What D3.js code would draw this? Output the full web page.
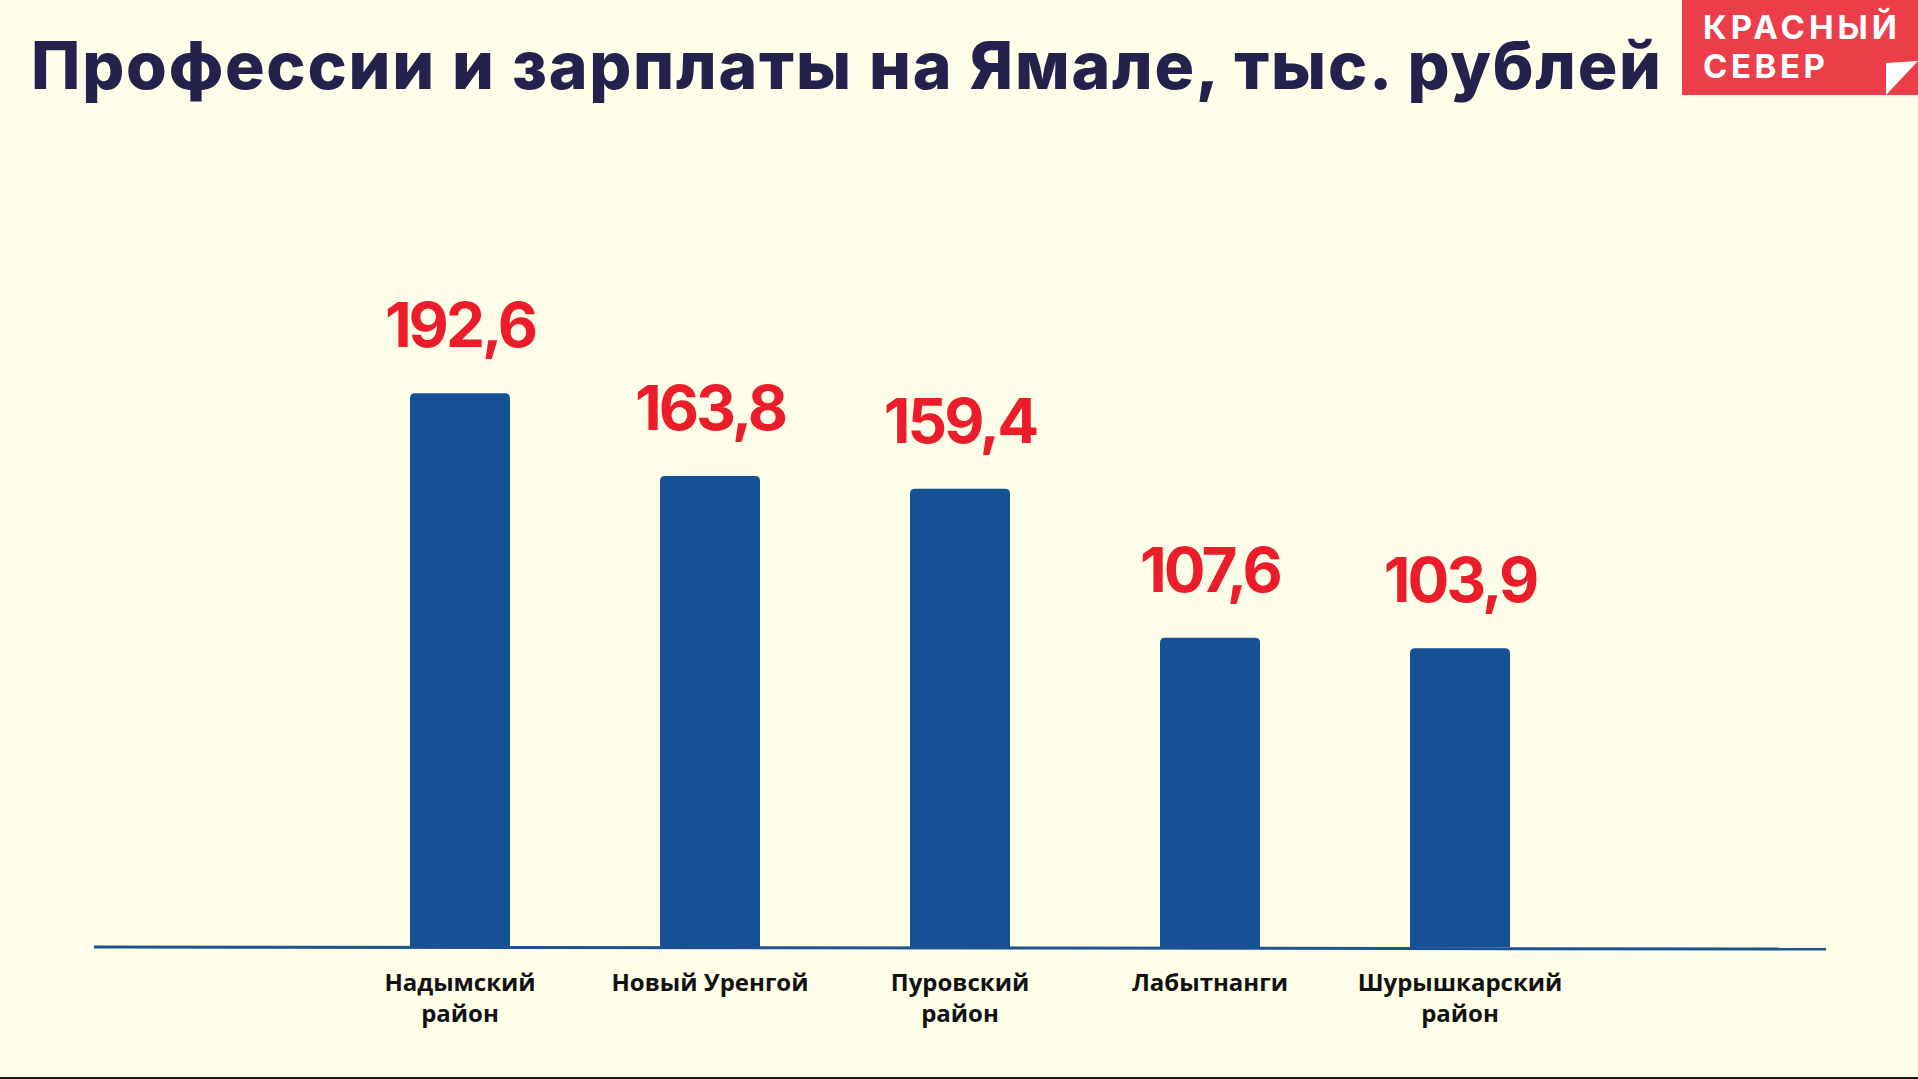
<!DOCTYPE html>
<html><head><meta charset="utf-8">
<script src="https://cdn.jsdelivr.net/npm/d3@7"></script>
<style>html,body{margin:0;padding:0;background:#fefee9;overflow:hidden}</style>
</head><body><svg id="c" width="1918" height="1079"></svg>
<script>
const title = "Профессии и зарплаты на Ямале, тыс. рублей";
const categories = ["Надымский район", "Новый Уренгой", "Пуровский район", "Лабытнанги", "Шурышкарский район"];
const values = [192.6, 163.8, 159.4, 107.6, 103.9];
const logoLines = ["КРАСНЫЙ", "СЕВЕР"];

const W = 1918, H = 1079;
const svg = d3.select("#c");
svg.append("rect").attr("width", W).attr("height", H).attr("fill", "#fefee9");

const x = d3.scaleBand().domain(categories).range([335, 1585]).paddingInner(0.6).paddingOuter(0.3);
const y = d3.scaleLinear().domain([0, 200]).range([947, 372]);
const fmt = v => d3.format(".1f")(v).replace(".", ",");

// title
svg.append("text").attr("x", 31).attr("y", 89)
  .attr("font-family", "Inter, 'Open Sans', sans-serif").attr("font-weight", 800)
  .attr("font-size", 66).attr("fill", "#24214c")
  .attr("textLength", 1630).attr("lengthAdjust", "spacing")
  .text(title);

// logo
const logo = svg.append("g");
logo.append("rect").attr("x", 1682).attr("y", 0).attr("width", W - 1682).attr("height", 95).attr("fill", "#ec3e49");
logo.selectAll("text").data(logoLines).join("text")
  .attr("x", 1703).attr("y", (d, i) => 39 + i * 39)
  .attr("font-family", "Inter, sans-serif").attr("font-weight", 700).attr("font-size", 33)
  .attr("fill", "#fff")
  .attr("textLength", (d, i) => i === 0 ? 194 : 122).attr("lengthAdjust", "spacing")
  .text(d => d);
logo.append("path").attr("d", "M1886,63 L1918,61 L1886,95 Z").attr("fill", "#fff");

// bars with rounded top corners
const r = 5;
svg.selectAll("path.bar").data(values).join("path").attr("class", "bar")
  .attr("fill", "#175195")
  .attr("d", (d, i) => {
    const x0 = x(categories[i]), w = x.bandwidth(), yt = y(d), yb = y(0);
    return `M${x0},${yb} L${x0},${yt + r} Q${x0},${yt} ${x0 + r},${yt} L${x0 + w - r},${yt} Q${x0 + w},${yt} ${x0 + w},${yt + r} L${x0 + w},${yb} Z`;
  });

// baseline
svg.append("line").attr("x1", 94).attr("x2", 1826).attr("y1", y(0)).attr("y2", y(0) + 2)
  .attr("stroke", "#1d5192").attr("stroke-width", 3);

// value labels
svg.selectAll("text.val").data(values).join("text").attr("class", "val")
  .attr("x", (d, i) => x(categories[i]) + x.bandwidth() / 2)
  .attr("y", d => y(d) - 46)
  .attr("text-anchor", "middle")
  .attr("font-family", "Inter, sans-serif").attr("font-weight", 700).attr("font-size", 62)
  .attr("letter-spacing", -3)
  .attr("fill", "#ec1d2b")
  .text(fmt);

// category labels
const cat = svg.selectAll("text.cat").data(categories).join("text").attr("class", "cat")
  .attr("x", d => x(d) + x.bandwidth() / 2)
  .attr("y", 991)
  .attr("text-anchor", "middle")
  .attr("font-family", "'Open Sans', sans-serif").attr("font-weight", 700).attr("font-size", 24)
  .attr("fill", "#111");
cat.each(function (d) {
  const parts = d.endsWith(" район") ? [d.replace(" район", ""), "район"] : [d];
  d3.select(this).selectAll("tspan").data(parts).join("tspan")
    .attr("x", x(d) + x.bandwidth() / 2)
    .attr("dy", (p, i) => i === 0 ? 0 : 31)
    .text(p => p);
});

// bottom frame edge
svg.append("rect").attr("x", 0).attr("y", H - 2).attr("width", W).attr("height", 2).attr("fill", "#1a1a1a");
</script></body></html>
